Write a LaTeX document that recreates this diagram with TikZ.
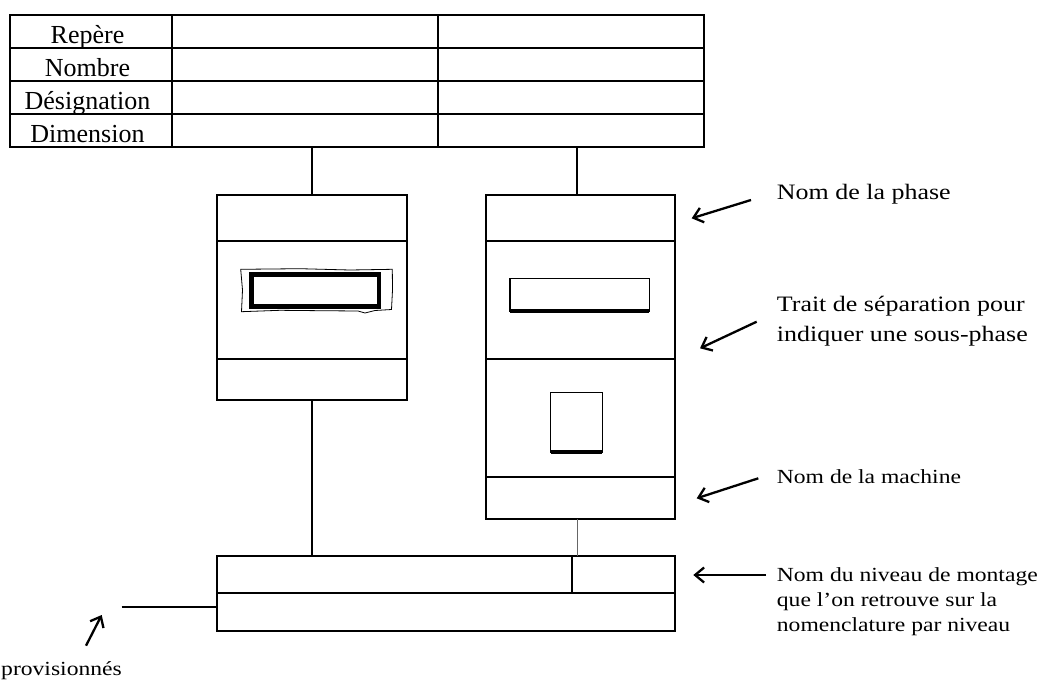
\documentclass[tikz,border=0pt]{standalone}
\usepackage{fontspec}
\setmainfont{Liberation Serif}
\newfontfamily\notefont{Liberation Serif}[FakeStretch=1.18]
\usetikzlibrary{arrows.meta}

\begin{document}
\begin{tikzpicture}[x=1pt,y=-1pt,>={Straight Barb[length=9pt,width=15pt]}]
        \tikzstyle{grid}=[draw=black,line width=2pt]
        \tikzstyle{phasebox}=[rectangle,draw=black,line width=2pt,minimum width=190pt,inner sep=0pt,outer sep=0pt]
        \tikzstyle{link}=[draw,line width=2pt]
        \tikzstyle{pointer}=[draw,line width=2.3pt,->]
        \tikzstyle{tablabel}=[anchor=base,inner sep=0pt,font=\fontsize{26}{30}\selectfont]
        \tikzstyle{note}=[anchor=base west,inner sep=0pt,align=left]
        \useasboundingbox (0,0) rectangle (1047,680);

        % table
        \draw[grid] (10,15) rectangle (704,147);
        \foreach \y in {48,81,114} \draw[grid] (10,\y) -- (704,\y);
        \draw[grid] (172,15) -- (172,147);
        \draw[grid] (438,15) -- (438,147);
        \foreach \lbl [count=\i] in {Repère,Nombre,Désignation,Dimension}
            \node[tablabel] (lab\i) at (87.5,{15+33*\i-4.7}) {\lbl};
        \coordinate (tabL) at (311.7,147);
        \coordinate (tabR) at (577,147);

        % phases
        \node[phasebox,minimum height=205pt] (ph1) at (311.7,297.5) {};
        \node[phasebox,minimum width=189.3pt,minimum height=324.3pt] (ph2) at (580.4,357.2) {};
        \draw[link] (ph1.west |- 0,241) -- (ph1.east |- 0,241);
        \draw[link] (ph1.west |- 0,359) -- (ph1.east |- 0,359);
        \draw[link] (ph2.west |- 0,241) -- (ph2.east |- 0,241);
        \draw[link] (ph2.west |- 0,359) -- (ph2.east |- 0,359);
        \draw[link] (ph2.west |- 0,476.7) -- (ph2.east |- 0,476.7);

        % croquis
        \draw[line width=0.8pt] (240.7,269.3) -- (300,268.7) -- (350,270) -- (392.3,269.3) -- (392.5,290) -- (391.5,309.5) -- (375,310.5) -- (365,313) -- (358,311) -- (320,310.7) -- (280,310.3) -- (241.5,311.7) -- (242.5,290) -- cycle;
        \draw[line width=4.5pt] (251.3,274.3) rectangle (379,306.7);
        \draw[line width=1.5pt] (510,278.3) rectangle (649.3,311.7);
        \draw[line width=3.5pt] (510,311) -- (649.3,311);
        \draw[line width=1.5pt] (550.7,392.3) rectangle (602.3,452.7);
        \draw[line width=3.5pt] (550.7,452) -- (602.3,452);

        % niveau de montage
        \node[phasebox,minimum width=458.5pt,minimum height=74.7pt] (level) at (445.75,593.35) {};
        \draw[link] (level.west |- 0,593) -- (level.east |- 0,593);
        \draw[link] (572,593) -- (572,0 |- level.north);

        % liaisons
        \draw[link] (tabL) -- (tabL |- ph1.north);
        \draw[link] (tabR) -- (tabR |- ph2.north);
        \draw[link] (ph1.south) -- (ph1.south |- level.north);
        \draw[draw=black!60,line width=0.8pt] (tabR |- ph2.south) -- (tabR |- level.north);
        \coordinate (supply) at (121.7,607);
        \draw[link] (supply) -- (supply -| level.west);

        % legendes
        \node[note,font=\notefont\fontsize{22}{30}\selectfont] (namephase) at (776.7,199.3) {Nom de la phase};
        \node[note,font=\notefont\fontsize{22}{30}\selectfont] (subphase) at (776.7,341.7) {Trait de séparation pour\\indiquer une sous-phase};
        \node[note,font=\notefont\fontsize{20}{25}\selectfont] (machine) at (776.7,483.3) {Nom de la machine};
        \node[note,font=\notefont\fontsize{20}{25}\selectfont] (niveau) at (776.7,631.7) {Nom du niveau de montage\\que l’on retrouve sur la\\nomenclature par niveau};
        \node[note,font=\notefont\fontsize{20}{25}\selectfont] (appro) at (1,675) {provisionnés};

        \coordinate (p1) at (751,200);
        \coordinate (p2) at (756.7,321.7);
        \coordinate (p3) at (758.3,478.3);
        \coordinate (p4) at (766,575);
        \coordinate (p5) at (86,645.7);
        \draw[pointer] (p1) -- (691.7,218.3);
        \draw[pointer] (p2) -- (700,348.3);
        \draw[pointer] (p3) -- (696.7,498.3);
        \draw[pointer] (p4) -- (693.3,575);
        \draw[pointer] (p5) -- (101.7,615);
\end{tikzpicture}
\end{document}
